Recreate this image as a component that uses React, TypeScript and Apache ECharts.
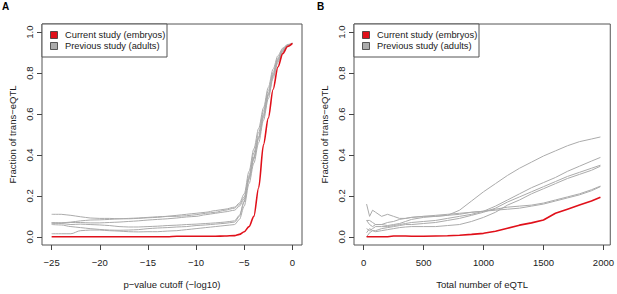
import React, { useEffect, useRef } from "react";
import * as echarts from "echarts";

// ---------- Panel A data: fraction of trans-eQTL vs p-value cutoff ----------
const A_X = [
  -25, -24, -23, -22, -21, -20, -19, -18, -17, -16, -15, -14, -13, -12, -11, -10, -9, -8, -7, -6,
  -5.5, -5, -4.5, -4, -3.5, -3, -2.5, -2, -1.5, -1, -0.5, 0,
];
const A_CURRENT = [
  0, 0, 0, 0, 0, 0, 0, 0, 0, 0, 0, 0, 0, 0.003, 0.003, 0.003, 0.003, 0.003, 0.004, 0.006,
  0.012, 0.025, 0.05, 0.1, 0.24, 0.45, 0.58, 0.72, 0.83, 0.895, 0.93, 0.945,
];
const A_PREV_1 = [
  0.11, 0.11, 0.105, 0.098, 0.092, 0.09, 0.09, 0.088, 0.09, 0.092, 0.095, 0.098, 0.1, 0.105, 0.11, 0.115, 0.12, 0.128, 0.135, 0.145,
  0.165, 0.21, 0.32, 0.43, 0.53, 0.63, 0.73, 0.82, 0.885, 0.922, 0.94, 0.945,
];
const A_PREV_2 = [
  0.07, 0.068, 0.072, 0.078, 0.082, 0.083, 0.085, 0.088, 0.088, 0.09, 0.093, 0.095, 0.1, 0.1, 0.103, 0.108, 0.115, 0.12, 0.13, 0.14,
  0.158, 0.195, 0.3, 0.41, 0.51, 0.615, 0.715, 0.805, 0.875, 0.918, 0.938, 0.945,
];
const A_PREV_3 = [
  0.065, 0.068, 0.07, 0.07, 0.068, 0.068, 0.07, 0.072, 0.075, 0.078, 0.082, 0.085, 0.088, 0.092, 0.097, 0.1, 0.108, 0.115, 0.122, 0.13,
  0.15, 0.185, 0.29, 0.39, 0.49, 0.6, 0.7, 0.795, 0.868, 0.913, 0.936, 0.945,
];
const A_PREV_4 = [
  0.06, 0.058, 0.05, 0.045, 0.04, 0.036, 0.033, 0.032, 0.033, 0.035, 0.04, 0.043, 0.045, 0.048, 0.05, 0.055, 0.058, 0.062, 0.066, 0.072,
  0.1, 0.17, 0.28, 0.38, 0.48, 0.585, 0.69, 0.785, 0.86, 0.908, 0.934, 0.945,
];
const A_PREV_5 = [
  0.015, 0.015, 0.015, 0.03, 0.033, 0.033, 0.03, 0.028, 0.025, 0.024, 0.025, 0.025, 0.028, 0.03, 0.035, 0.04, 0.045, 0.05, 0.055, 0.06,
  0.085, 0.15, 0.26, 0.36, 0.46, 0.57, 0.675, 0.775, 0.852, 0.903, 0.932, 0.945,
];
const A_PREV_6 = [
  0.068, 0.065, 0.06, 0.062, 0.06, 0.058, 0.055, 0.05, 0.048, 0.048, 0.05, 0.052, 0.055, 0.057, 0.06, 0.062, 0.065, 0.068, 0.072, 0.078,
  0.105, 0.175, 0.285, 0.385, 0.485, 0.59, 0.695, 0.79, 0.865, 0.91, 0.935, 0.945,
];

// ---------- Panel B data: fraction of trans-eQTL vs total number of eQTL ----------
const B_X = [
  25, 50, 75, 100, 150, 200, 250, 300, 350, 400, 500, 600, 700, 800, 900, 1000, 1100, 1200, 1300, 1400,
  1500, 1600, 1700, 1800, 1900, 1975,
];
const B_CURRENT = [
  0, 0, 0, 0, 0, 0, 0.004, 0.004, 0.004, 0.003, 0.003, 0.004, 0.005, 0.008, 0.012, 0.017, 0.027, 0.042, 0.057, 0.068,
  0.082, 0.115, 0.135, 0.155, 0.175, 0.193,
];
const B_PREV_1 = [
  0.08, 0.08, 0.07, 0.06, 0.06, 0.055, 0.06, 0.065, 0.075, 0.085, 0.095, 0.1, 0.105, 0.13, 0.175, 0.22, 0.26, 0.3, 0.335, 0.365,
  0.395, 0.42, 0.445, 0.465, 0.478, 0.488,
];
const B_PREV_2 = [
  0.16, 0.1, 0.13, 0.12, 0.1, 0.11, 0.1, 0.09, 0.09, 0.095, 0.1, 0.105, 0.11, 0.115, 0.12, 0.125, 0.135, 0.145, 0.15, 0.155,
  0.165, 0.18, 0.195, 0.21, 0.23, 0.248,
];
const B_PREV_3 = [
  0.08, 0.06, 0.05, 0.06, 0.06, 0.07, 0.075, 0.085, 0.09, 0.095, 0.1, 0.1, 0.105, 0.11, 0.12, 0.125, 0.13, 0.135, 0.14, 0.15,
  0.16, 0.175, 0.19, 0.205, 0.225, 0.245,
];
const B_PREV_4 = [
  0.04, 0.03, 0.04, 0.05, 0.05, 0.05, 0.055, 0.06, 0.065, 0.07, 0.075, 0.08, 0.09, 0.1, 0.11, 0.125, 0.15, 0.18, 0.21, 0.24,
  0.265, 0.29, 0.32, 0.345, 0.37, 0.388,
];
const B_PREV_5 = [
  0.02, 0.04, 0.03, 0.03, 0.04, 0.045, 0.05, 0.055, 0.06, 0.06, 0.065, 0.07, 0.08, 0.09, 0.105, 0.12, 0.14, 0.17, 0.195, 0.22,
  0.245, 0.27, 0.295, 0.315, 0.335, 0.35,
];
const B_PREV_6 = [
  0.0, 0.02, 0.03, 0.025, 0.03, 0.035, 0.04, 0.045, 0.048, 0.05, 0.05, 0.05, 0.055, 0.06, 0.075, 0.095, 0.12, 0.155, 0.18, 0.21,
  0.235, 0.26, 0.285, 0.305, 0.325, 0.345,
];

const A_TICKS = [-25, -20, -15, -10, -5, 0];
const B_TICKS = [0, 500, 1000, 1500, 2000];
const Y_TICKS = [0, 0.2, 0.4, 0.6, 0.8, 1.0];

const LEGEND_LABELS = ["Current study (embryos)", "Previous study (adults)"];
const PANEL_LABELS = ["A", "B"];
const X_TITLES = ["p\u2212value cutoff (\u2212log10)", "Total number of eQTL"];
const Y_TITLE = "Fraction of trans\u2212eQTL";

const RED = "#e0101a";
const GRAY = "#ababab";
const FONT = "'Liberation Sans', Arial, Helvetica, sans-serif";
const TXT = "#1a1a1a";

const pairs = (xs: number[], ys: number[]) => xs.map((x, i) => [x, ys[i]]);

export default function App() {
  const ref = useRef<HTMLDivElement>(null);

  useEffect(() => {
    if (!ref.current) return;
    const chart = echarts.init(ref.current, null, { renderer: "svg" });

    const grids = [
      { left: 42, top: 24, width: 260, height: 226 },
      { left: 354, top: 24, width: 260, height: 226 },
    ];

    const minus = (v: number) => String(v).replace("-", "\u2212");

    const xAxisCommon = (gridIndex: number, min: number, max: number, ticks: number[], title: string) => ({
      type: "value",
      gridIndex,
      min,
      max,
      name: title,
      nameLocation: "middle",
      nameGap: 34,
      nameTextStyle: { fontFamily: FONT, fontSize: 9.5, color: TXT },
      axisLine: { show: false, onZero: false },
      splitLine: { show: false },
      axisTick: {
        show: true,
        length: 5,
        lineStyle: { color: "#444", width: 1 },
        customValues: ticks,
      },
      axisLabel: {
        show: true,
        fontFamily: FONT,
        fontSize: 9.5,
        color: TXT,
        margin: 12,
        customValues: ticks,
        formatter: (v: number) => minus(v),
      },
    });

    const yAxisCommon = (gridIndex: number) => ({
      type: "value",
      gridIndex,
      min: -0.04,
      max: 1.04,
      name: Y_TITLE,
      nameLocation: "middle",
      nameGap: 25,
      nameTextStyle: { fontFamily: FONT, fontSize: 9.5, color: TXT },
      axisLine: { show: false, onZero: false },
      splitLine: { show: false },
      axisTick: {
        show: true,
        length: 5,
        lineStyle: { color: "#444", width: 1 },
        customValues: Y_TICKS,
      },
      axisLabel: {
        show: true,
        rotate: 90,
        align: "center",
        verticalAlign: "bottom",
        fontFamily: FONT,
        fontSize: 9.5,
        color: TXT,
        margin: 8,
        customValues: Y_TICKS,
        formatter: (v: number) => v.toFixed(1),
      },
    });

    const line = (xi: number, xs: number[], ys: number[], color: string, width: number, z: number, smooth: number | boolean) => ({
      type: "line",
      xAxisIndex: xi,
      yAxisIndex: xi,
      data: pairs(xs, ys),
      showSymbol: false,
      symbol: "none",
      smooth,
      smoothMonotone: "x",
      lineStyle: { color, width },
      itemStyle: { color },
      z,
      silent: true,
    });

    const aPrev = [A_PREV_1, A_PREV_2, A_PREV_3, A_PREV_4, A_PREV_5, A_PREV_6];
    const bPrev = [B_PREV_1, B_PREV_2, B_PREV_3, B_PREV_4, B_PREV_5, B_PREV_6];

    const series: any[] = [];
    aPrev.forEach((ys) => series.push(line(0, A_X, ys, GRAY, 1, 2, 0.3)));
    series.push(line(0, A_X, A_CURRENT, RED, 1.6, 3, 0.3));
    bPrev.forEach((ys) => series.push(line(1, B_X, ys, GRAY, 1, 2, false)));
    series.push(line(1, B_X, B_CURRENT, RED, 1.6, 3, false));

    const legendGraphic = (gx: number) => {
      const boxX = gx;
      const boxY = 24;
      const items = [
        { label: LEGEND_LABELS[0], color: RED, cy: 35 },
        { label: LEGEND_LABELS[1], color: GRAY, cy: 46 },
      ];
      const els: any[] = [
        {
          type: "rect",
          shape: { x: boxX, y: boxY, width: 125, height: 33 },
          style: { fill: "#fff", stroke: "#555", lineWidth: 1 },
          z: 10,
        },
      ];
      items.forEach((it) => {
        els.push({
          type: "rect",
          shape: { x: boxX + 8.5, y: it.cy - 3.5, width: 7, height: 7 },
          style: { fill: it.color, stroke: "#333", lineWidth: 0.8 },
          z: 11,
        });
        els.push({
          type: "text",
          x: boxX + 23,
          y: it.cy,
          style: {
            text: it.label,
            fontFamily: FONT,
            fontSize: 9.3,
            fill: TXT,
            verticalAlign: "middle",
            align: "left",
          },
          z: 11,
        });
      });
      return els;
    };

    const graphic: any[] = [
      ...legendGraphic(42),
      ...legendGraphic(354),
      {
        type: "text",
        x: 2,
        y: 1,
        style: { text: PANEL_LABELS[0], fontFamily: FONT, fontSize: 10, fontWeight: "bold", fill: "#000" },
      },
      {
        type: "text",
        x: 317,
        y: 1,
        style: { text: PANEL_LABELS[1], fontFamily: FONT, fontSize: 10, fontWeight: "bold", fill: "#000" },
      },
    ];

    chart.setOption({
      animation: false,
      backgroundColor: "#fff",
      grid: grids.map((g) => ({
        ...g,
        show: true,
        borderColor: "#555",
        borderWidth: 1,
        backgroundColor: "transparent",
        containLabel: false,
      })),
      xAxis: [
        xAxisCommon(0, -26, 1, A_TICKS, X_TITLES[0]),
        xAxisCommon(1, -80, 2057, B_TICKS, X_TITLES[1]),
      ],
      yAxis: [yAxisCommon(0), yAxisCommon(1)],
      series,
      graphic,
    });

    return () => chart.dispose();
  }, []);

  return (
    <div
      ref={ref}
      style={{ position: "absolute", left: 0, top: 0, width: 617, height: 294 }}
    />
  );
}
